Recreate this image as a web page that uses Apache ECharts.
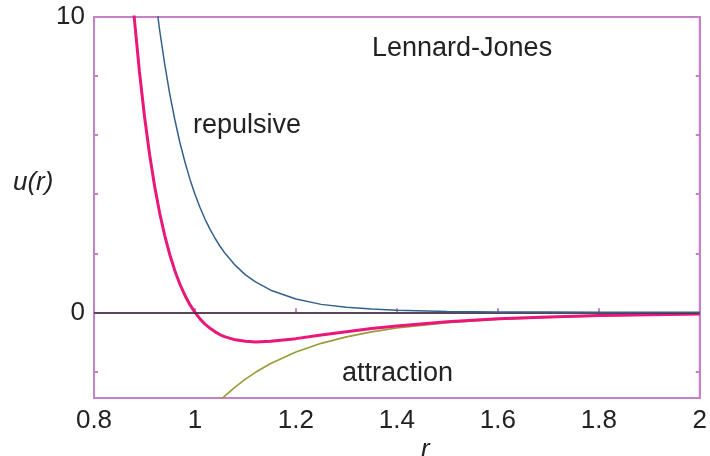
<!DOCTYPE html>
<html>
<head>
<meta charset="utf-8">
<script src="https://cdn.jsdelivr.net/npm/echarts@6/dist/echarts.min.js"></script>
<style>html,body{margin:0;padding:0;background:#fff;}#c{width:710px;height:456px;}</style>
</head>
<body>
<div id="c"></div>
<script>
var rValues = [0.86,0.87,0.88,0.89,0.90,0.91,0.92,0.93,0.94,0.95,0.96,0.97,0.98,0.99,1.00,1.01,1.02,1.03,1.04,1.05,1.06,1.08,1.10,1.12,1.15,1.20,1.25,1.30,1.35,1.40,1.50,1.60,1.70,1.80,1.90,2.00];
var ljValues = [14.55,12.05,9.93,8.15,6.64,5.36,4.28,3.37,2.61,1.96,1.42,0.96,0.58,0.26,0,-0.22,-0.40,-0.54,-0.66,-0.76,-0.83,-0.93,-0.98,-1.00,-0.98,-0.89,-0.77,-0.66,-0.55,-0.46,-0.32,-0.22,-0.16,-0.11,-0.08,-0.06];
var repulsiveValues = [24.44,21.27,18.55,16.19,14.16,12.40,10.88,9.56,8.41,7.40,6.53,5.76,5.10,4.51,4.00,3.55,3.15,2.81,2.50,2.23,1.99,1.59,1.27,1.03,0.75,0.45,0.27,0.17,0.11,0.07,0.03,0.01,0.01,0.00,0.00,0.00];
var attractionValues = [-9.89,-9.22,-8.61,-8.05,-7.53,-7.04,-6.60,-6.18,-5.80,-5.44,-5.11,-4.80,-4.52,-4.25,-4.00,-3.77,-3.55,-3.35,-3.16,-2.98,-2.82,-2.52,-2.26,-2.03,-1.73,-1.34,-1.05,-0.83,-0.66,-0.53,-0.35,-0.24,-0.17,-0.12,-0.09,-0.06];
var xTicks = [0.8,1.0,1.2,1.4,1.6,1.8,2.0];
var yTicks = [-2,0,2,4,6,8,10];
var yLabels = [0,10];

function pairs(vals){ return rValues.map(function(r,i){ return [r, vals[i]]; }); }

var frame = '#c67fc9';
var font = 'Liberation Sans, Arial, sans-serif';
var chart = echarts.init(document.getElementById('c'), null, {renderer:'canvas'});
chart.setOption({
  animation: false,
  backgroundColor: '#fff',
  grid: {left: 94, right: 3, top: 17, bottom: 58, show: true, borderColor: frame, borderWidth: 2, backgroundColor: 'transparent'},
  xAxis: {
    type: 'value', min: 0.8, max: 2,
    axisLine: {show: true, lineStyle: {color: frame, width: 2}},
    axisTick: {show: true, inside: true, length: 4, customValues: xTicks, lineStyle: {color: frame, width: 2}},
    axisLabel: {show: true, customValues: xTicks, fontSize: 26, fontFamily: font, color: '#222', margin: 10, showMaxLabel: true, showMinLabel: true, hideOverlap: false},
    splitLine: {show: false}
  },
  yAxis: [{
    type: 'value', min: -2.9, max: 10,
    axisLine: {show: true, lineStyle: {color: frame, width: 2}},
    axisTick: {show: true, inside: true, length: 4, customValues: yTicks, lineStyle: {color: frame, width: 2}},
    axisLabel: {show: true, customValues: yLabels, fontSize: 26, fontFamily: font, color: '#222', margin: 9},
    splitLine: {show: false}
  },{
    type: 'value', min: -2.9, max: 10, position: 'right',
    axisLine: {show: true, lineStyle: {color: frame, width: 2}},
    axisTick: {show: true, inside: true, length: 4, customValues: yTicks, lineStyle: {color: frame, width: 2}},
    axisLabel: {show: false},
    splitLine: {show: false}
  }],
  series: [
    {type: 'line', data: pairs(attractionValues), showSymbol: false, smooth: false, lineStyle: {color: '#9a9a38', width: 1.6}, z: 3,
     markLine: {silent: true, symbol: 'none', label: {show: false}, lineStyle: {color: '#333', width: 1.5, type: 'solid'}, data: [{yAxis: 0}]}},
    {type: 'line', data: pairs(ljValues), showSymbol: false, smooth: false, lineStyle: {color: '#ea1679', width: 3}, z: 4},
    {type: 'line', data: pairs(repulsiveValues), showSymbol: false, smooth: false, lineStyle: {color: '#34608e', width: 1.5}, z: 5}
  ],
  graphic: [
    {type: 'text', left: 372, top: 35, style: {text: 'Lennard-Jones', font: '27px ' + font, fill: '#222'}},
    {type: 'text', left: 193, top: 112, style: {text: 'repulsive', font: '27px ' + font, fill: '#222'}},
    {type: 'text', left: 342, top: 360, style: {text: 'attraction', font: '27px ' + font, fill: '#222'}},
    {type: 'text', left: 13, top: 170, style: {text: 'u(r)', font: 'italic 26px ' + font, fill: '#222'}},
    {type: 'text', left: 421, top: 437, style: {text: 'r', font: 'italic 26px ' + font, fill: '#222'}}
  ]
});
</script>
</body>
</html>
